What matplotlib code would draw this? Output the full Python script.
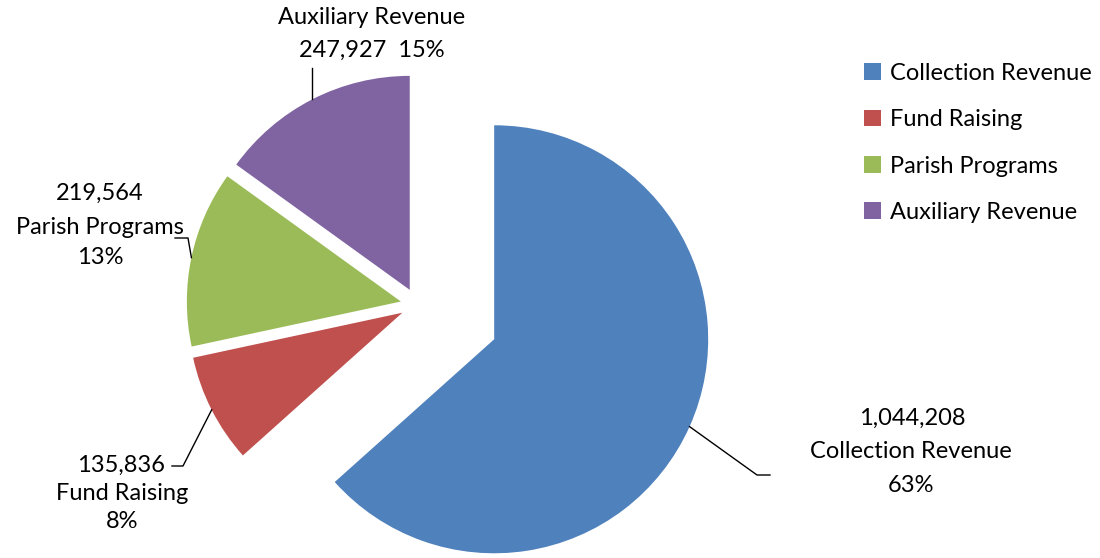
import numpy as np
import matplotlib.pyplot as plt

# revenue data
categories = ['Collection Revenue', 'Fund Raising', 'Parish Programs', 'Auxiliary Revenue']
amounts = [1044208, 135836, 219564, 247927]
colors = ['#4F81BD', '#C0504D', '#9BBB59', '#8064A2']
percent_labels = ['63%', '8%', '13%', '15%']

W, H = 1100, 558
fig = plt.figure(figsize=(11, 5.58), dpi=100)
ax = fig.add_axes([0, 0, 1, 1])

FONT = 'Lato'
FS = 17

# pie in pixel-like data units (y measured from bottom)
center = (417.5, H - 305)
radius = 214
explode = [84, 17, 17, 17]

wedges, _ = ax.pie(amounts, colors=colors, startangle=90, counterclock=False,
                   center=center, radius=radius, explode=explode,
                   wedgeprops=dict(linewidth=0))
ax.set_xlim(0, W)
ax.set_ylim(0, H)
ax.set_aspect('equal')
ax.axis('off')


def rim_point(w):
    mid = np.deg2rad((w.theta1 + w.theta2) / 2)
    cx, cy = w.center
    return cx + w.r * np.cos(mid), cy + w.r * np.sin(mid)


def put(x, y, s):
    ax.text(x, H - y, s, ha='center', va='center', fontsize=FS, family=FONT, color='black')


# data labels (image coords for text)
label_lines = {
    'Collection Revenue': [(912, 418, '1,044,208'), (911, 451, 'Collection Revenue'), (911, 485, '63%')],
    'Fund Raising': [(121, 465, '135,836'), (122, 493, 'Fund Raising'), (122, 522, '8%')],
    'Parish Programs': [(100, 193, '219,564'), (100, 227, 'Parish Programs'), (100, 258, '13%')],
    'Auxiliary Revenue': [(372, 18, 'Auxiliary Revenue'), (372, 50, '247,927  15%')],
}
for name in categories:
    for x, y, s in label_lines[name]:
        put(x, y, s)

# leader lines: start points near text, then to the wedge rim
leaders = {
    'Collection Revenue': [(770, 475), (757, 475)],
    'Fund Raising': [(172, 466), (183, 466)],
    'Parish Programs': [(175, 238), (188, 238)],
    'Auxiliary Revenue': [(314, 68)],
}
for w, name in zip(wedges, categories):
    pts = [(px, H - py) for px, py in leaders[name]]
    pts.append(rim_point(w))
    if name == 'Auxiliary Revenue':
        pts[0] = (pts[1][0], pts[0][1])
    xs, ys = zip(*pts)
    ax.plot(xs, ys, color='black', linewidth=1.0)

leg = ax.legend(wedges, categories, loc='upper left',
                bbox_to_anchor=(864 / W, 1 - 63 / H), frameon=False,
                prop={'family': FONT, 'size': FS},
                handlelength=0.7, handleheight=0.7, handletextpad=0.4,
                labelspacing=1.07, borderpad=0, borderaxespad=0)

fig.savefig('out.png', dpi=100)
